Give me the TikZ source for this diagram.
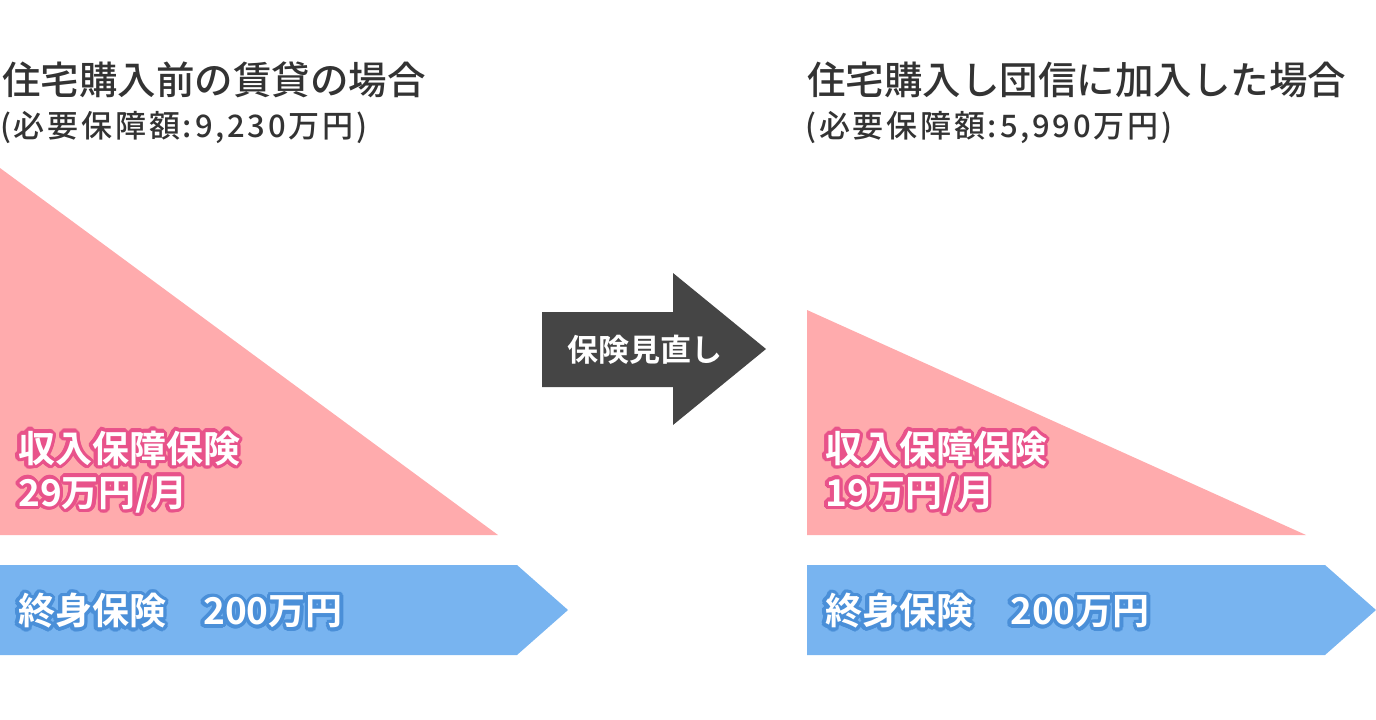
\documentclass[tikz,border=0pt]{standalone}
\usepackage{fontspec}
\setmainfont{Noto Sans CJK JP Medium}
\newfontfamily\boldjp{Noto Sans CJK JP Bold}
\newfontfamily\subjp[LetterSpace=9]{Noto Sans CJK JP Medium}
\usetikzlibrary{calc}
\definecolor{pinkfill}{HTML}{FFABAD}
\definecolor{pinkline}{HTML}{E8528A}
\definecolor{bluefill}{HTML}{78B4F0}
\definecolor{blueline}{HTML}{4A8FD8}
\definecolor{darkarrow}{HTML}{454545}
\definecolor{titletext}{HTML}{333333}
\newcommand{\outlined}[5] % name, x, y, colour, text
{
	% halo
	\foreach \a in {0,20,...,340}
		\node[label text, text=#4] at ($(#2,#3)+(\a:3.5)$) {#5};
	% white text on top
	\node[label text, text=white] (#1) at (#2,#3) {#5};
}
\tikzset{
	label text/.style={anchor=west, inner sep=0pt, align=left, font=\boldjp\fontsize{37}{44}\selectfont},
	title text/.style={anchor=west, inner sep=0pt, text=titletext, font=\fontsize{38.5}{44}\selectfont},
	sub text/.style={anchor=west, inner sep=0pt, text=titletext, font=\subjp\fontsize{31}{36}\selectfont}
}
\begin{document}
\begin{tikzpicture}[x=1pt, y=-1pt]
	\useasboundingbox (0,0) rectangle (1376,720);
	% left: before purchase
	\node[title text] (titleL) at (2,80) {住宅購入前の賃貸の場合};
	\node[sub text] (subL) at (0,128) {(必要保障額:9,230万円)};
	\fill[pinkfill] (0,168) -- (0,535) -- (498,535) -- cycle;
	\fill[bluefill] (0,565) -- (517,565) -- (568,610) -- (517,655) -- (0,655) -- cycle;
	\outlined{incomeL}{18}{472}{pinkline}{収入保障保険\\29万円/月}
	\outlined{lifeL}{18}{611}{blueline}{終身保険\hspace{1em}200万円}
	% middle arrow
	\fill[darkarrow] (542,312) -- (673,312) -- (673,273) -- (766,349) -- (673,425) -- (673,387) -- (542,387) -- cycle;
	\node[text=white, font=\boldjp\fontsize{31}{36}\selectfont] (review) at (645,350) {保険見直し};
	% right: after purchase
	\node[title text] (titleR) at (807,80) {住宅購入し団信に加入した場合};
	\node[sub text] (subR) at (805,128) {(必要保障額:5,990万円)};
	\fill[pinkfill] (807,310) -- (807,535) -- (1306,535) -- cycle;
	\fill[bluefill] (807,565) -- (1325,565) -- (1376,610) -- (1325,655) -- (807,655) -- cycle;
	\outlined{incomeR}{825}{472}{pinkline}{収入保障保険\\19万円/月}
	\outlined{lifeR}{825}{611}{blueline}{終身保険\hspace{1em}200万円}
\end{tikzpicture}
\end{document}
